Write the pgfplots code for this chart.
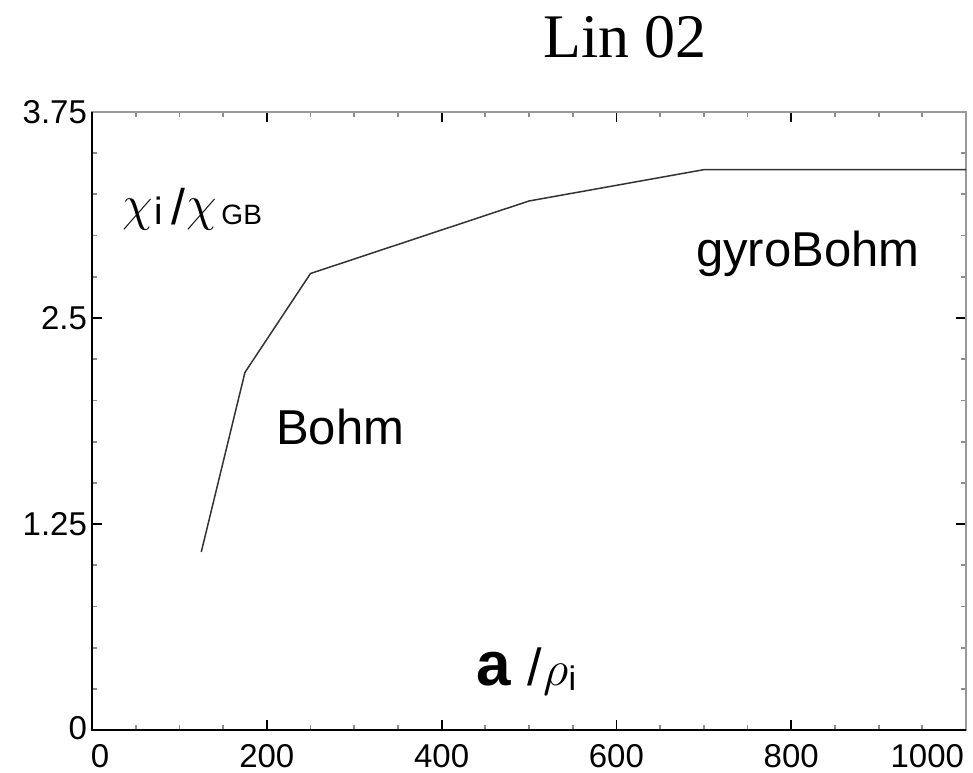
\documentclass[border=0pt]{standalone}
\usepackage{pgfplots}
\pgfplotsset{compat=1.18}
\usepackage{fontspec}
\setmainfont{Liberation Serif}
\setsansfont{Liberation Sans}

% ion heat diffusivity vs. normalised machine size
\pgfplotstableread{
x     y
125   1.08
175   2.17
250   2.77
500   3.21
700   3.40
1000  3.40
}\chidata

\begin{document}
\begin{tikzpicture}
\begin{axis}[
  scale only axis,
  width=437pt, height=309pt,
  xmin=0, xmax=1000, ymin=0, ymax=3.75,
  xtick={0,200,...,1000},
  xticklabels={\hspace{8pt}0,200,400,600,800,\makebox[0pt][r]{1000\hspace{1pt}}},
  ytick={0,1.25,2.5,3.75},
  yticklabels={\raisebox{2pt}{0},1.25,2.5,3.75},
  minor x tick num=3,
  minor y tick num=4,
  tick align=inside,
  major tick length=5pt,
  minor tick length=2.5pt,
  every tick/.style={black, line width=0.9pt},
  minor tick style={black!45, line width=0.9pt},
  axis line style={black!40, line width=0.8pt},
  tick label style={font=\fontsize{16.5}{18}\sffamily},
  /pgf/number format/assume math mode=true,
  xticklabel style={yshift=-3.5pt},
  yticklabel style={xshift=1pt},
  clip=false,
]
  \addplot[black!80, line width=0.75pt] table[x=x, y=y] {\chidata};

  \draw[black, line width=1.1pt] (rel axis cs:0,1) -- (rel axis cs:0,0) -- (rel axis cs:1,0);

  \coordinate (sw) at (rel axis cs:0,0);
  \coordinate (ne) at (rel axis cs:1,1);

  \node[anchor=base west, inner sep=0pt] at (axis cs:34,3.07)
    {\raisebox{0.17em}{\fontsize{36}{38}\selectfont$\chi$}\hspace{1pt}%
     {\fontsize{19}{20}\sffamily i}\hspace{4pt}%
     {\fontsize{25}{26}\sffamily /}\hspace{1pt}%
     \raisebox{0.17em}{\fontsize{36}{38}\selectfont$\chi$}\hspace{2pt}%
     {\fontsize{14}{15}\sffamily GB}};

  \node[font=\fontsize{24.5}{26}\sffamily, inner sep=0pt] at (axis cs:284,1.84) {Bohm};
  \node[font=\fontsize{24.5}{26}\sffamily, inner sep=0pt, anchor=base] at (axis cs:819,2.81) {gyroBohm};

  \node[anchor=base, inner sep=0pt] at (axis cs:497,0.273)
    {{\fontsize{31}{33}\sffamily\bfseries a}\hspace{8pt}%
     {\fontsize{26}{28}\sffamily /}\hspace{1pt}%
     {\fontsize{28}{30}\selectfont$\rho$}%
     \raisebox{-0.25em}{\fontsize{17}{18}\sffamily i}};

  \node[anchor=base, inner sep=0pt, font=\fontsize{31}{33}\selectfont]
    at ([yshift=27pt]axis cs:610,3.75) {Lin 02};
\end{axis}
\pgfresetboundingbox
\path[use as bounding box] ([xshift=-46pt,yshift=-21pt]sw) rectangle ([xshift=3.5pt,yshift=56pt]ne);
\end{tikzpicture}
\end{document}
